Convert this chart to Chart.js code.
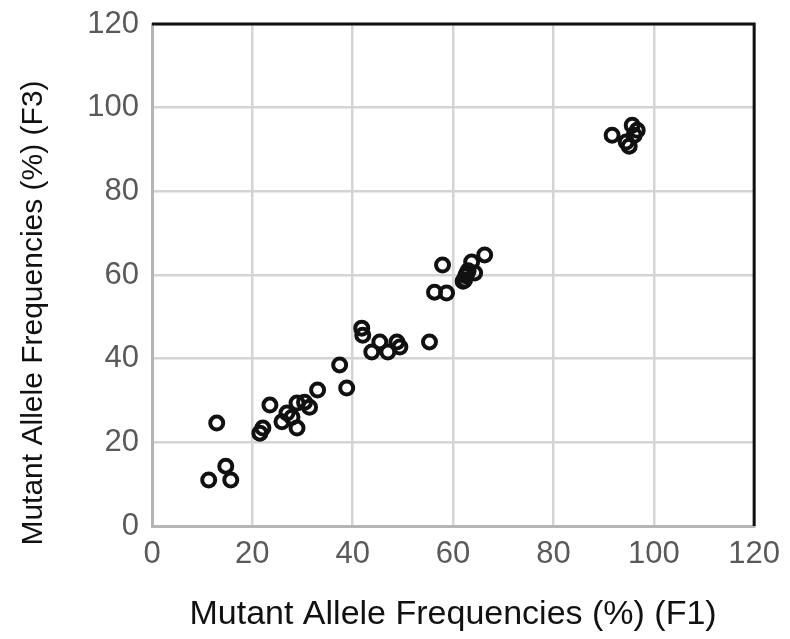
<!DOCTYPE html>
<html>
<head>
<meta charset="utf-8">
<script src="https://cdn.jsdelivr.net/npm/chart.js@4"></script>
<style>
  html, body { margin: 0; padding: 0; background: #fff; }
  #wrap { width: 790px; height: 639px; }
</style>
</head>
<body>
<div id="wrap"><canvas id="chart" width="790" height="639"></canvas></div>
<script>
// values: F1 (x) against F3 (y), percent
const f1 = [11.3, 14.7, 15.7, 12.9, 21.5, 22.1, 23.5, 25.9, 26.9, 27.9, 28.9, 28.9, 30.4, 31.4, 33.0, 38.8, 37.4,
  41.8, 42.0, 43.8, 45.4, 47.0, 48.8, 49.4, 55.3, 57.9, 56.3, 58.7,
  62.0, 62.3, 62.5, 62.8, 63.0, 63.7, 64.3, 66.3,
  91.7, 94.5, 95.1, 95.7, 96.1, 96.7];
const f3 = [11.0, 14.3, 11.0, 24.6, 22.2, 23.4, 28.9, 24.9, 27.0, 26.0, 23.4, 29.4, 29.6, 28.4, 32.5, 33.0, 38.5,
  47.3, 45.6, 41.6, 44.0, 41.6, 44.0, 42.8, 44.0, 62.4, 55.9, 55.7,
  58.5, 58.8, 59.8, 60.5, 61.0, 63.1, 60.5, 64.8,
  93.4, 91.8, 90.8, 95.8, 93.4, 94.6];
const axisTicks = [0, 20, 40, 60, 80, 100, 120];
const yTitle = 'Mutant Allele Frequencies (%) (F3)';

const points = f1.map((x, i) => ({ x, y: f3[i] }));
const fam = 'Liberation Sans, Arial, sans-serif';

// black top/right frame plus the y title, which sits a little below centre
const frame = {
  id: 'frame',
  afterDraw(chart) {
    const { ctx, chartArea: a } = chart;
    ctx.save();
    ctx.strokeStyle = '#111';
    ctx.lineWidth = 3;
    ctx.beginPath();
    ctx.moveTo(a.left, a.top);
    ctx.lineTo(a.right, a.top);
    ctx.lineTo(a.right, a.bottom);
    ctx.stroke();

    ctx.translate(34, 313);
    ctx.rotate(-Math.PI / 2);
    ctx.fillStyle = '#111';
    ctx.font = `30px ${fam}`;
    ctx.textAlign = 'center';
    ctx.textBaseline = 'middle';
    ctx.fillText(yTitle, 0, 0);
    ctx.restore();
  }
};

new Chart(document.getElementById('chart').getContext('2d'), {
  type: 'scatter',
  data: {
    datasets: [{
      data: points,
      pointStyle: 'circle',
      pointRadius: 6.5,
      borderWidth: 4,
      borderColor: '#111',
      backgroundColor: 'rgba(0,0,0,0)'
    }]
  },
  plugins: [frame],
  options: {
    responsive: false,
    animation: false,
    layout: { padding: { top: 24, right: 35, left: 0, bottom: 0 } },
    plugins: { legend: { display: false }, tooltip: { enabled: false } },
    scales: {
      x: {
        min: 0, max: 120,
        afterBuildTicks: (s) => { s.ticks = axisTicks.map((v) => ({ value: v })); },
        afterFit: (s) => { s.height = 113; },
        grid: { color: '#d4d4d4', lineWidth: 2.5, drawTicks: false },
        border: { color: '#b5b5b5', width: 3 },
        ticks: { color: '#595959', font: { family: fam, size: 31 }, padding: 10, maxRotation: 0 },
        title: { display: true, text: 'Mutant Allele Frequencies (%) (F1)', color: '#111', font: { family: fam, size: 34 }, padding: { top: 6 } }
      },
      y: {
        min: 0, max: 120,
        afterBuildTicks: (s) => { s.ticks = axisTicks.map((v) => ({ value: v })); },
        afterFit: (s) => { s.width = 152; s.paddingTop = 0; s.paddingBottom = 0; },
        grid: { color: '#d4d4d4', lineWidth: 2.5, drawTicks: false },
        border: { color: '#b5b5b5', width: 3 },
        ticks: { color: '#595959', font: { family: fam, size: 31 }, padding: 13 }
      }
    }
  }
});
</script>
</body>
</html>
